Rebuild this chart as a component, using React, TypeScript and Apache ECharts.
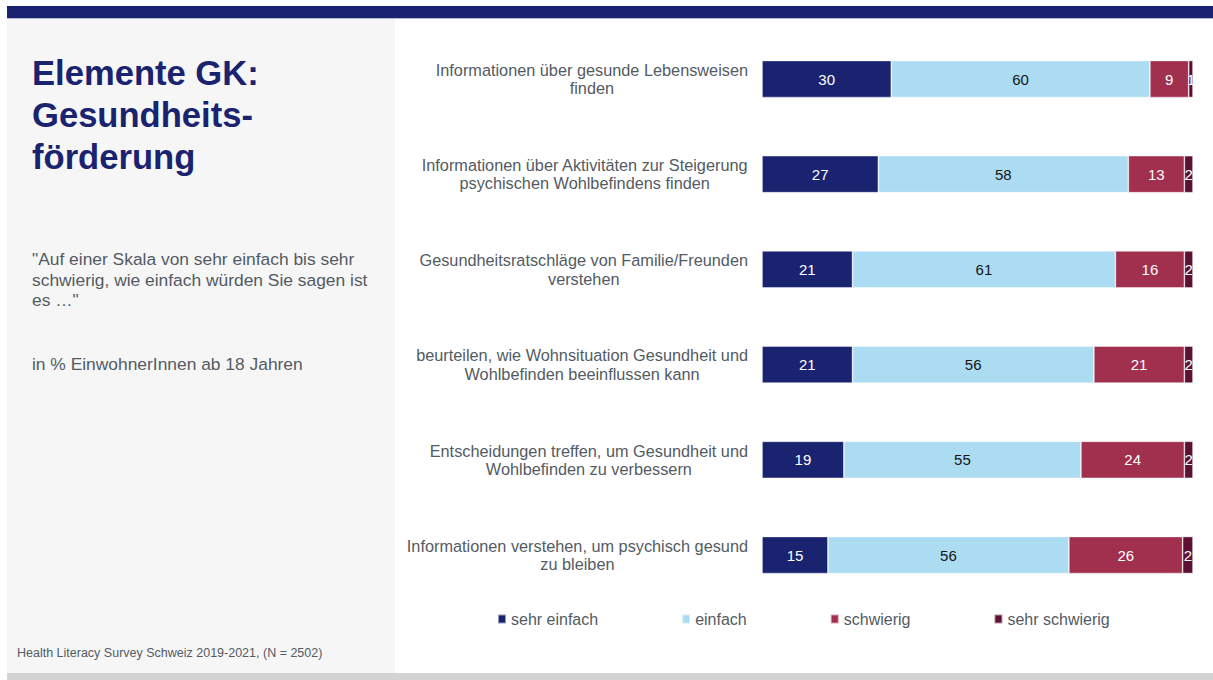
import React, { useEffect, useRef } from "react";
import * as echarts from "echarts";

const categories = [
  "Informationen über gesunde Lebensweisen\nfinden",
  "Informationen über Aktivitäten zur Steigerung\npsychischen Wohlbefindens finden",
  "Gesundheitsratschläge von Familie/Freunden\nverstehen",
  "beurteilen, wie Wohnsituation Gesundheit und\nWohlbefinden beeinflussen kann",
  "Entscheidungen treffen, um Gesundheit und\nWohlbefinden zu verbessern",
  "Informationen verstehen, um psychisch gesund\nzu bleiben",
];
const seriesNames = ["sehr einfach", "einfach", "schwierig", "sehr schwierig"];
const sehrEinfach = [30, 27, 21, 21, 19, 15.3];
const einfach = [60, 58, 61, 56, 55, 55.9];
const schwierig = [9, 13, 16, 21, 24, 26.4];
const sehrSchwierig = [1, 2, 2, 2, 2, 2.4];
const seriesColors = ["#1a236f", "#acdcf2", "#a1304f", "#5b1034"];
const labelColors = ["#ffffff", "#151515", "#ffffff", "#ffffff"];

const titleLines = ["Elemente GK:", "Gesundheits-", "förderung"];
const questionLines = [
  "\"Auf einer Skala von sehr einfach bis sehr",
  "schwierig, wie einfach würden Sie sagen ist",
  "es …\"",
];
const unitNote = "in % EinwohnerInnen ab 18 Jahren";
const sourceNote = "Health Literacy Survey Schweiz 2019-2021, (N = 2502)";

const FONT = "'Liberation Sans', Arial, Helvetica, sans-serif";
const GRAY = "#535b63";

export default function App() {
  const ref = useRef<HTMLDivElement>(null);

  useEffect(() => {
    if (!ref.current) return;
    const chart = echarts.init(ref.current, undefined, { renderer: "svg" });
    const values = [sehrEinfach, einfach, schwierig, sehrSchwierig];

    const graphics: any[] = [];
    titleLines.forEach((t, i) => {
      graphics.push({
        type: "text",
        x: 32,
        y: 73.4 + i * 42,
        style: {
          text: t,
          fill: "#1a236f",
          font: `bold 34.6px ${FONT}`,
          verticalAlign: "middle",
        },
      });
    });
    questionLines.forEach((t, i) => {
      graphics.push({
        type: "text",
        x: 32,
        y: 259 + i * 20.5,
        style: {
          text: t,
          fill: GRAY,
          font: `17.4px ${FONT}`,
          verticalAlign: "middle",
        },
      });
    });
    graphics.push({
      type: "text",
      x: 32,
      y: 364,
      style: { text: unitNote, fill: GRAY, font: `17.4px ${FONT}`, verticalAlign: "middle" },
    });
    graphics.push({
      type: "text",
      x: 17,
      y: 653,
      style: { text: sourceNote, fill: GRAY, font: `12.5px ${FONT}`, verticalAlign: "middle" },
    });

    chart.setOption({
      animation: false,
      backgroundColor: "transparent",
      textStyle: { fontFamily: FONT },
      graphic: graphics,
      legend: {
        data: seriesNames,
        left: 497,
        top: 611,
        padding: 0,
        icon: "rect",
        itemWidth: 8,
        itemHeight: 9,
        itemGap: 83,
        textStyle: { fontSize: 16, color: GRAY, fontFamily: FONT },
        selectedMode: false,
      },
      grid: { left: 762, right: 0, top: 31.4, height: 571.2, containLabel: false },
      xAxis: { type: "value", min: 0, max: 100, show: false },
      yAxis: {
        type: "category",
        data: categories,
        inverse: true,
        axisLine: { show: false },
        axisTick: { show: false },
        splitLine: { show: false },
        axisLabel: {
          margin: 14,
          formatter: (v: string) =>
            v
              .split("\n")
              .map((l) => `{c|${l}}`)
              .join("\n"),
          rich: {
            c: {
              align: "center",
              fontSize: 16.3,
              lineHeight: 18.5,
              color: GRAY,
              fontFamily: FONT,
            },
          },
        },
      },
      series: seriesNames.map((name, i) => ({
        name,
        type: "bar",
        stack: "total",
        barWidth: 37,
        data: values[i],
        itemStyle: {
          color: seriesColors[i],
          borderColor: "rgba(255,255,255,0.55)",
          borderWidth: 0.75,
        },
        label: {
          show: true,
          position: "inside",
          color: labelColors[i],
          fontSize: 15,
          fontFamily: FONT,
          formatter: (p: any) => String(Math.round(p.value)),
        },
      })),
    });

    return () => chart.dispose();
  }, []);

  return (
    <div
      style={{
        position: "fixed",
        left: 0,
        top: 0,
        width: 1213,
        height: 680,
        background: "#ffffff",
        overflow: "hidden",
      }}
    >
      <div style={{ position: "absolute", left: 7, top: 6, width: 1206, height: 12, background: "#1a236f" }} />
      <div style={{ position: "absolute", left: 7, top: 18, width: 1206, height: 1, background: "#b4b8d2" }} />
      <div style={{ position: "absolute", left: 7, top: 19, width: 388, height: 654, background: "#f6f6f6" }} />
      <div style={{ position: "absolute", left: 7, top: 673, width: 1206, height: 7, background: "#d3d3d3" }} />
      <div
        ref={ref}
        style={{ position: "absolute", left: 0, top: 0, width: 1193, height: 680, overflow: "hidden" }}
      />
    </div>
  );
}
